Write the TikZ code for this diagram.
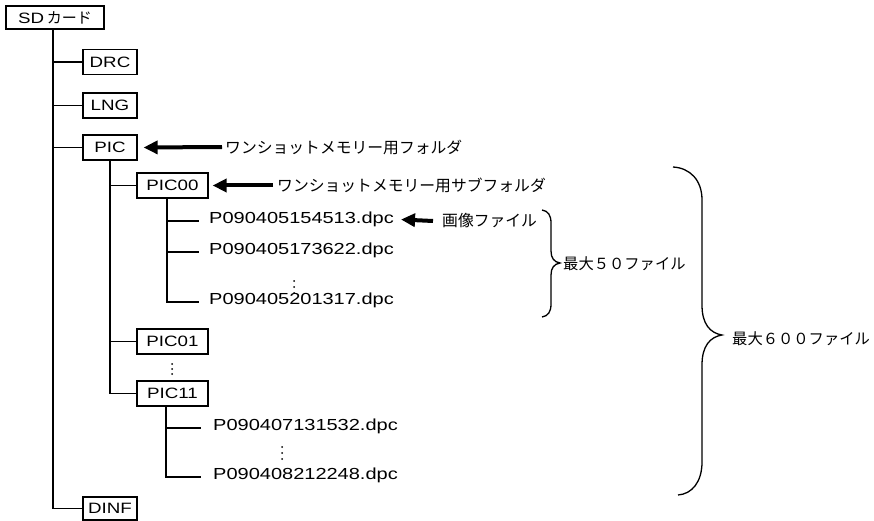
\documentclass[tikz,border=0pt]{standalone}
\usepackage{fontspec}
\setmainfont{Liberation Sans}[FakeStretch=1.25]
\newfontfamily\jp{Noto Sans CJK JP}
\usetikzlibrary{arrows.meta}
\begin{document}
\begin{tikzpicture}[x=1pt,y=-1pt,
  box/.style={draw,line width=1.2pt,inner sep=0pt,minimum height=25pt,font=\fontsize{15}{15}\selectfont},
  sbox/.style={box,minimum width=54pt},
  wbox/.style={box,minimum width=71pt},
  file/.style={inner sep=0pt,anchor=mid west,font=\fontsize{16}{17}\selectfont},
  note/.style={inner sep=0pt,anchor=west,font=\jp\fontsize{15.8}{17}\selectfont},
  bignote/.style={inner sep=0pt,anchor=west,font=\jp\fontsize{15.3}{17}\selectfont},
  tree/.style={line width=1.3pt},
  callout/.style={line width=4pt,-{Triangle[length=14pt,width=13pt]}},
  bracepath/.style={line width=1.3pt},
  vdot/.style={fill,circle,inner sep=0pt,minimum size=2pt}
]
\useasboundingbox (0,0) rectangle (874,521);

% boxes
\node[box,minimum width=98pt,minimum height=23pt] (sd) at (55,17.5) {SD\,{\jp カード}};
\node[sbox] (drc) at (110,62) {DRC};
\node[sbox] (lng) at (110,105.5) {LNG};
\node[sbox] (pic) at (110,147.5) {PIC};
\node[wbox] (pic00) at (172.5,185.5) {PIC00};
\node[wbox] (pic01) at (172.5,341.5) {PIC01};
\node[wbox] (pic11) at (172.5,393.5) {PIC11};
\node[sbox,minimum height=23pt] (dinf) at (110,508.5) {DINF};

% files
\node[file] (f1) at (209,221) {P090405154513.dpc};
\node[file] (f2) at (209,252) {P090405173622.dpc};
\node[file] (f3) at (209,302) {P090405201317.dpc};
\node[file] (g1) at (213,428) {P090407131532.dpc};
\node[file] (g2) at (213,477) {P090408212248.dpc};

% tree lines
\draw[tree] ([xshift=-2pt]sd.south) |- (drc.west);
\draw[tree] ([xshift=-2pt]sd.south) |- (lng.west);
\draw[tree] ([xshift=-2pt]sd.south) |- (pic.west);
\draw[tree] ([xshift=-2pt]sd.south) |- (dinf.west);
\draw[tree] (pic.south) |- (pic00.west);
\draw[tree] (pic.south) |- (pic01.west);
\draw[tree] (pic.south) |- (pic11.west);
\draw[tree] ([xshift=-5.5pt]pic00.south) |- ([xshift=-10pt]f1.mid west);
\draw[tree] ([xshift=-5.5pt]pic00.south) |- ([xshift=-10pt]f2.mid west);
\draw[tree] ([xshift=-5.5pt]pic00.south) |- ([xshift=-10pt]f3.mid west);
\draw[tree] ([xshift=-6.5pt]pic11.south) |- ([xshift=-12pt]g1.mid west);
\draw[tree] ([xshift=-6.5pt]pic11.south) |- ([xshift=-12pt]g2.mid west);

% vertical dots
\foreach \yy in {281,287,293} \node[vdot] at (294,\yy) {};
\foreach \yy in {364,369,374} \node[vdot] at (172,\yy) {};
\foreach \yy in {447,453,459} \node[vdot] at (282,\yy) {};

% callouts
\node[note] (t1) at (225,147) {ワンショットメモリー用フォルダ};
\node[note] (t2) at (277,185.5) {ワンショットメモリー用サブフォルダ};
\node[note] (t3) at (442,221) {画像ファイル};
\draw[callout] ([xshift=-3pt]t1.west) -- ([xshift=6pt]pic.east);
\draw[callout] ([xshift=-4pt]t2.west) -- ([xshift=4pt]pic00.east);
\draw[callout] ([xshift=-9pt]t3.west) -- ([xshift=7pt]f1.east);

% braces
\draw[bracepath] (542,210) .. controls (548,211) and (551,215) .. (551,223)
  -- (551,251) .. controls (551,258) and (554,262) .. (560,263)
  .. controls (554,264) and (551,268) .. (551,275)
  -- (551,304) .. controls (551,312) and (548,316) .. (542,317);
\node[bignote] (m50) at (563,264) {最大５０ファイル};

\draw[bracepath] (673,167) .. controls (690,168) and (702,180) .. (702,200)
  -- (702,305) .. controls (702,324) and (710,333) .. (722,335)
  .. controls (710,337) and (702,346) .. (702,365)
  -- (702,462) .. controls (702,482) and (692,494) .. (678,495);
\node[bignote] (m600) at (732,339) {最大６００ファイル};
\end{tikzpicture}
\end{document}
